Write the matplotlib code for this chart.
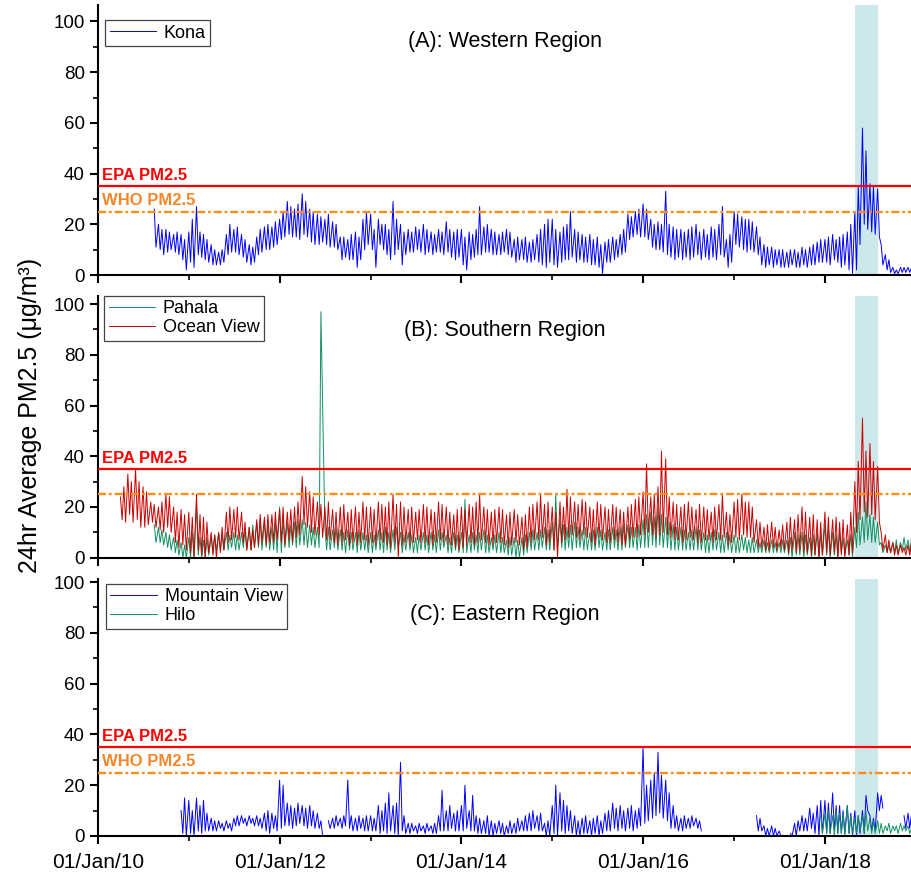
import numpy as np
import pandas as pd
import matplotlib
matplotlib.use('Agg')
import matplotlib.pyplot as plt
import matplotlib.dates as mdates
import matplotlib.transforms as mtrans
from matplotlib.ticker import MultipleLocator

plt.rcParams['font.family'] = ['Liberation Sans', 'DejaVu Sans']

nan = np.nan

# 24hr PM2.5 (ug/m3) per half month (1st / 15th):
# upper and lower edge of the daily trace in each half month
kona_start = '2010-08-15'
kona_hi = [
    26, 20, 18, 18, 17, 16, 17, 16, 14,
    17, 22, 27, 17, 16, 14, 12, 10, 9, 10, 16, 20, 18, 19, 16, 14, 12, 11, 15, 18, 19, 20, 19, 21,
    22, 25, 29, 27, 26, 28, 32, 29, 26, 25, 24, 23, 22, 24, 21, 20, 15, 15, 14, 16, 17, 15, 22, 25,
    24, 18, 22, 20, 20, 18, 29, 22, 20, 17, 18, 17, 19, 18, 20, 18, 17, 16, 18, 17, 21, 18, 17, 18,
    18, 15, 17, 16, 18, 27, 19, 20, 18, 17, 16, 17, 18, 17, 14, 15, 14, 15, 13, 14, 16, 18, 20, 22,
    22, 18, 17, 19, 20, 25, 18, 17, 16, 15, 16, 14, 15, 12, 13, 14, 15, 14, 16, 18, 24, 23, 25, 26,
    28, 26, 22, 20, 21, 20, 33, 20, 19, 18, 18, 17, 18, 19, 20, 17, 18, 16, 19, 18, 20, 27, 14, 16,
    25, 24, 23, 22, 22, 21, 19, 15, 12, 11, 11, 10, 10, 10, 9, 10, 10, 9, 11, 10, 11, 12, 13, 14,
    14, 15, 16, 14, 15, 16, 17, 20, 25, 35, 58, 49, 36, 35, 34, 12, 8, 6, 3, 2, 3, 3, 3, 3,
]
kona_lo = [
    11, 10, 8, 9, 10, 9, 8, 6, 2,
    5, 3, 8, 7, 6, 5, 4, 4, 4, 5, 8, 9, 9, 8, 7, 5, 4, 5, 8, 9, 10, 10, 11, 12,
    14, 15, 16, 15, 15, 14, 16, 15, 13, 12, 12, 13, 12, 11, 11, 10, 6, 7, 6, 6, 3, 6, 10, 12,
    10, 3, 12, 10, 8, 6, 8, 10, 4, 8, 9, 9, 10, 9, 8, 9, 8, 9, 9, 8, 9, 7, 6, 7,
    4, 2, 6, 7, 8, 8, 9, 9, 8, 8, 8, 9, 8, 7, 5, 6, 6, 5, 5, 6, 5, 4, 3, 5,
    4, 3, 5, 6, 6, 7, 5, 6, 5, 5, 4, 4, 3, 0.5, 5, 5, 6, 7, 8, 9, 14, 15, 16, 15,
    15, 14, 11, 10, 10, 9, 8, 7, 6, 7, 6, 7, 6, 7, 8, 6, 7, 6, 7, 6, 8, 7, 3, 5,
    12, 11, 10, 9, 10, 9, 8, 4, 3, 4, 3, 4, 3, 3, 3, 4, 3, 3, 4, 3, 4, 4, 5, 5,
    5, 4, 6, 5, 3, 4, 2, 0.5, 2, 12, 20, 18, 17, 16, 15, 4, 2, 1, 0.5, 0.5, 1, 1, 1, 1.5,
]

oview_start = '2010-04-01'
oview_hi = [
    24, 28, 33, 30, 35, 30, 28, 26, 22, 21, 20, 22, 25, 24, 20, 18, 19, 17,
    18, 16, 25, 17, 16, 14, 10, 9, 10, 12, 18, 20, 19, 20, 18, 14, 12, 11, 15, 17, 16, 17, 17, 18,
    19, 20, 18, 19, 20, 22, 32, 28, 26, 24, 22, 21, 20, 22, 19, 18, 20, 21, 18, 19, 20, 18, 22, 20,
    20, 19, 22, 21, 20, 22, 25, 21, 22, 20, 19, 20, 18, 19, 21, 20, 19, 18, 22, 21, 20, 18, 17, 19,
    20, 19, 21, 20, 22, 25, 20, 19, 18, 19, 20, 19, 17, 18, 19, 17, 16, 17, 20, 21, 22, 25, 21, 22,
    20, 18, 22, 20, 27, 24, 22, 21, 23, 22, 20, 19, 22, 21, 20, 19, 21, 20, 19, 18, 20, 21, 23, 24,
    26, 37, 24, 25, 28, 42, 39, 24, 22, 21, 20, 21, 22, 20, 19, 21, 20, 19, 18, 20, 21, 25, 18, 17,
    22, 23, 25, 22, 22, 20, 15, 14, 12, 13, 14, 12, 11, 13, 14, 16, 15, 17, 20, 18, 16, 17, 15, 14,
    18, 16, 15, 16, 14, 15, 13, 18, 30, 38, 55, 42, 45, 38, 36, 10, 9, 7, 6, 5, 5, 4, 5, 6,
]
oview_lo = [
    15, 14, 17, 14, 15, 12, 12, 13, 14, 12, 11, 10, 12, 10, 6, 4, 5, 3,
    2, 0, 3, 1, 0, 2, 1, 0, 2, 3, 6, 7, 8, 7, 6, 3, 3, 4, 5, 6, 5, 6, 6, 7,
    6, 5, 7, 6, 8, 9, 13, 12, 10, 9, 9, 8, 7, 7, 6, 5, 6, 7, 5, 6, 5, 6, 7, 5,
    6, 5, 7, 6, 5, 4, 6, 0, 5, 6, 5, 6, 7, 6, 6, 5, 5, 6, 7, 6, 5, 5, 4, 3,
    4, 5, 6, 5, 6, 7, 6, 5, 5, 6, 6, 5, 4, 5, 6, 5, 3, 4, 6, 7, 7, 8, 5, 6,
    3, 0, 6, 7, 8, 9, 8, 7, 9, 8, 6, 5, 8, 7, 6, 6, 7, 6, 5, 5, 7, 8, 8, 9,
    9, 10, 9, 8, 9, 10, 9, 8, 7, 7, 6, 7, 8, 7, 6, 6, 7, 7, 6, 7, 7, 8, 5, 6,
    8, 7, 9, 8, 8, 6, 4, 4, 3, 3, 4, 3, 4, 3, 2, 3, 2, 3, 2, 2, 1, 1, 0, 1,
    2, 1, 2, 0, 1, 0, 1, 2, 10, 15, 18, 16, 17, 15, 14, 3, 2, 2, 1, 1, 2, 1, 1, 2,
]

pahala_start = '2010-08-15'
pahala_hi = [
    13, 12, 11, 10, 9, 8, 7, 6, 5,
    8, 10, 20, 8, 7, 8, 8, 9, 10, 9, 10, 9, 10, 9, 10, 11, 12, 13, 14, 15, 14, 13, 12, 14,
    20, 16, 14, 13, 14, 15, 15, 14, 13, 12, 12, 97, 12, 12, 11, 12, 11, 10, 11, 10, 10, 11, 10, 9,
    10, 9, 11, 10, 12, 10, 11, 12, 10, 9, 10, 9, 8, 9, 10, 9, 10, 9, 11, 10, 9, 8, 10, 9,
    10, 23, 9, 10, 9, 10, 11, 9, 8, 9, 10, 8, 7, 8, 8, 7, 8, 9, 10, 11, 10, 11, 12, 11,
    14, 25, 15, 13, 12, 13, 14, 12, 11, 12, 10, 11, 12, 11, 10, 11, 12, 11, 12, 13, 13, 12, 12, 13,
    15, 17, 18, 16, 20, 17, 16, 14, 13, 12, 12, 11, 10, 11, 12, 11, 10, 9, 10, 11, 10, 9, 10, 9,
    9, 8, 9, 8, 7, 8, 7, 6, 7, 6, 7, 6, 6, 7, 7, 8, 10, 9, 10, 9, 8, 9, 10, 9,
    13, 11, 10, 9, 10, 8, 7, 9, 12, 18, 16, 22, 17, 16, 14, 6, 5, 5, 6, 7, 6, 8, 7, 8,
]
pahala_lo = [
    6, 6, 5, 4, 3, 2, 1, 0, 0,
    0, 0, 1, 0, 0, 1, 2, 3, 3, 3, 3, 4, 3, 3, 4, 3, 3, 4, 4, 3, 4, 3, 3, 2,
    2, 4, 4, 5, 4, 5, 5, 4, 5, 4, 4, 60, 3, 3, 4, 3, 3, 2, 3, 3, 2, 3, 3, 2,
    2, 3, 3, 2, 3, 2, 3, 4, 2, 3, 3, 2, 2, 3, 3, 2, 3, 2, 3, 4, 2, 2, 3, 2,
    2, 2, 2, 3, 2, 3, 2, 2, 3, 2, 2, 2, 1, 1, 0, 0, 1, 2, 3, 3, 3, 4, 3, 3,
    3, 4, 4, 3, 4, 3, 4, 4, 3, 3, 3, 3, 4, 3, 3, 3, 4, 3, 3, 4, 4, 4, 3, 4,
    4, 4, 5, 4, 5, 4, 4, 3, 3, 3, 3, 3, 3, 3, 3, 3, 2, 2, 3, 3, 2, 2, 3, 2,
    2, 2, 3, 2, 2, 2, 2, 2, 2, 2, 2, 2, 2, 2, 1, 0, 1, 1, 0, 1, 0, 1, 0, 1,
    1, 0, 1, 0, 2, 1, 1, 0, 4, 5, 6, 7, 6, 6, 5, 2, 2, 2, 2, 2, 3, 3, 2, 3,
]

mview_start = '2010-12-01'
mview_hi = [
    10, 15,
    14, 10, 15, 12, 14, 9, 7, 6, 6, 5, 6, 5, 7, 8, 8, 7, 8, 7, 8, 7, 9, 10, 9, 8,
    22, 20, 13, 12, 11, 13, 12, 11, 12, 10, 9, 6, nan, 6, 7, 8, 7, 8, 22, 8, 7, 8, 7, 8,
    8, 7, 12, 10, 13, 17, 12, 13, 29, 8, 5, 5, 4, 5, 4, 5, 4, 5, 8, 18, 10, 12, 9, 10,
    12, 20, 10, 16, 8, 7, 6, 8, 6, 5, 6, 5, 4, 6, 5, 7, 6, 8, 9, 10, 8, 9, 5, 6,
    12, 20, 17, 14, 12, 10, 8, 6, 7, 8, 6, 7, 8, 6, 9, 10, 13, 11, 12, 10, 11, 12, 10, 11,
    35, 20, 22, 25, 33, 24, 22, 17, 12, 8, 7, 8, 7, 8, 7, 6, nan, nan, nan, nan, nan, nan, nan, nan,
    nan, nan, nan, nan, nan, nan, 8, 7, 4, 3, 4, 3, 2, nan, nan, 1, 5, 6, 8, 7, 11, 9, 12, 14,
    14, 13, 17, 12, 12, 10, 12, 9, 10, 8, 10, 16, 8, 7, 17, 16, nan, nan, nan, nan, nan, 8, 9, 9,
]
mview_lo = [
    1, 0,
    1, 0, 2, 1, 2, 2, 2, 2, 3, 2, 3, 2, 4, 4, 5, 4, 5, 4, 4, 3, 2, 1, 3, 2,
    3, 4, 4, 3, 4, 5, 4, 3, 4, 3, 3, 0, nan, 3, 3, 4, 3, 4, 3, 2, 2, 3, 2, 2,
    2, 2, 1, 2, 1, 2, 1, 0, 2, 1, 1, 2, 1, 2, 1, 2, 1, 1, 2, 2, 2, 3, 2, 2,
    2, 3, 2, 2, 1, 1, 1, 0, 0, 1, 1, 0, 1, 1, 1, 2, 2, 2, 2, 3, 2, 2, 0, 0,
    1, 0, 2, 1, 2, 1, 0, 0, 1, 1, 0, 1, 0, 1, 2, 2, 3, 2, 3, 2, 3, 2, 3, 4,
    5, 6, 7, 8, 9, 7, 6, 3, 3, 2, 2, 3, 3, 4, 3, 2, nan, nan, nan, nan, nan, nan, nan, nan,
    nan, nan, nan, nan, nan, nan, 2, 2, 0, 0, 0, 0, 0, nan, nan, 0, 0, 2, 2, 2, 3, 1, 0, 1,
    1, 1, 2, 1, 1, 1, 1, 0, 0, 1, 1, 10, 2, 2, 10, 11, nan, nan, nan, nan, nan, 3, 3, 3,
]

hilo_start = '2017-12-15'
hilo_hi = [
    8,
    9, 10, 8, 10, 9, 9, 12, 8, 7, 8, 8, 10, 7, 6, 6, 5, 4, 5, 4, 4, 5, 4, 4, 3,
]
hilo_lo = [
    1,
    1, 1, 0, 1, 1, 0, 1, 1, 1, 2, 1, 2, 1, 1, 1, 1, 2, 1, 2, 1, 2, 2, 1, 2,
]

eruption = ('2018-05-03', '2018-08-04')
epa_limit = 35
who_limit = 25


def trace(start, hi, lo):
    # upper reading on the 1st/15th, lower reading a week later
    d = pd.date_range(start, periods=len(hi), freq='SMS')
    x = np.empty(2 * len(d), dtype='datetime64[ns]')
    x[0::2] = d.values
    x[1::2] = (d + pd.Timedelta(days=7)).values
    y = np.empty(2 * len(d))
    y[0::2] = hi
    y[1::2] = lo
    return x, y


fig = plt.figure(figsize=(9.12, 8.76), dpi=100)
L = 98 / 912
W = 1 - L
axA = fig.add_axes([L, 1 - 275 / 876, W, 270 / 876])
axB = fig.add_axes([L, 1 - 557.7 / 876, W, 262 / 876])
axC = fig.add_axes([L, 1 - 836 / 876, W, 256.7 / 876])

blue = '#0000FF'
green = '#129060'
red = '#CC0000'
lw = 0.7

x, y = trace(kona_start, kona_hi, kona_lo)
axA.plot(x, y, color=blue, lw=lw, label='Kona', zorder=2)

x, y = trace(pahala_start, pahala_hi, pahala_lo)
axB.plot(x, y, color=green, lw=lw, label='Pahala', zorder=2)
x, y = trace(oview_start, oview_hi, oview_lo)
axB.plot(x, y, color=red, lw=lw, label='Ocean View', zorder=2)

x, y = trace(mview_start, mview_hi, mview_lo)
axC.plot(x, y, color=blue, lw=lw, label='Mountain View', zorder=2)
x, y = trace(hilo_start, hilo_hi, hilo_lo)
axC.plot(x, y, color=green, lw=lw, label='Hilo', zorder=2)

titles = ['(A): Western Region', '(B): Southern Region', '(C): Eastern Region']
ylims = [106.5, 103.3, 101.1]
title_y = [0.863, 0.869, 0.861]
leg_anchor = [(0.0086, 0.944), (0.0074, 1.0), (0.0098, 0.982)]

for i, ax in enumerate([axA, axB, axC]):
    ax.axvspan(pd.Timestamp(eruption[0]), pd.Timestamp(eruption[1]),
               color='#CDE8EA', lw=0, zorder=0)
    ax.axhline(epa_limit, color='#FF0000', lw=1.6, zorder=3)
    ax.axhline(who_limit, color='#FF8C1A', lw=1.7, ls=(0, (3.4, 1.2, 1.2, 1.2)), zorder=3)
    tr = mtrans.blended_transform_factory(ax.transAxes, ax.transData)
    ax.text(0.005, epa_limit + 1.3, 'EPA PM2.5', transform=tr, color='#FF0000',
            fontsize=12, fontweight='bold', va='bottom', ha='left')
    if i != 1:
        ax.text(0.005, who_limit + 1.3, 'WHO PM2.5', transform=tr, color='#F7862A',
                fontsize=12, fontweight='bold', va='bottom', ha='left')
    ax.text(0.5, title_y[i], titles[i], transform=ax.transAxes, fontsize=15.5,
            ha='center', va='center')

    ax.set_xlim(pd.Timestamp('2010-01-01'), pd.Timestamp('2018-12-17'))
    ax.set_ylim(0, ylims[i])
    ax.xaxis.set_major_locator(mdates.YearLocator(2))
    ax.xaxis.set_minor_locator(mdates.YearLocator(1))
    ax.xaxis.set_major_formatter(mdates.DateFormatter('%d/%b/%y'))
    ax.yaxis.set_major_locator(MultipleLocator(20))
    ax.yaxis.set_minor_locator(MultipleLocator(10))
    for s in ['top', 'right']:
        ax.spines[s].set_visible(False)
    for s in ['left', 'bottom']:
        ax.spines[s].set_linewidth(1.5)
    ax.tick_params(which='major', length=6, width=1.5, labelsize=13.5, direction='out')
    ax.tick_params(which='minor', length=3.5, width=1.2, direction='out')
    if i < 2:
        ax.tick_params(labelbottom=False)
    else:
        ax.tick_params(axis='x', pad=6, labelsize=15)

    leg = ax.legend(loc='upper left', bbox_to_anchor=leg_anchor[i], borderaxespad=0,
                    fontsize=13, frameon=True, fancybox=False, framealpha=1,
                    edgecolor='#444444', handlelength=2.6, handletextpad=0.4,
                    labelspacing=0.1, borderpad=0.25)
    leg.get_frame().set_linewidth(0.9)

fig.text(0.033, 0.526, '24hr Average PM2.5 (\u03bcg/m\u00b3)', rotation=90,
         fontsize=18, ha='center', va='center')

fig.savefig('out.png', dpi=100)
